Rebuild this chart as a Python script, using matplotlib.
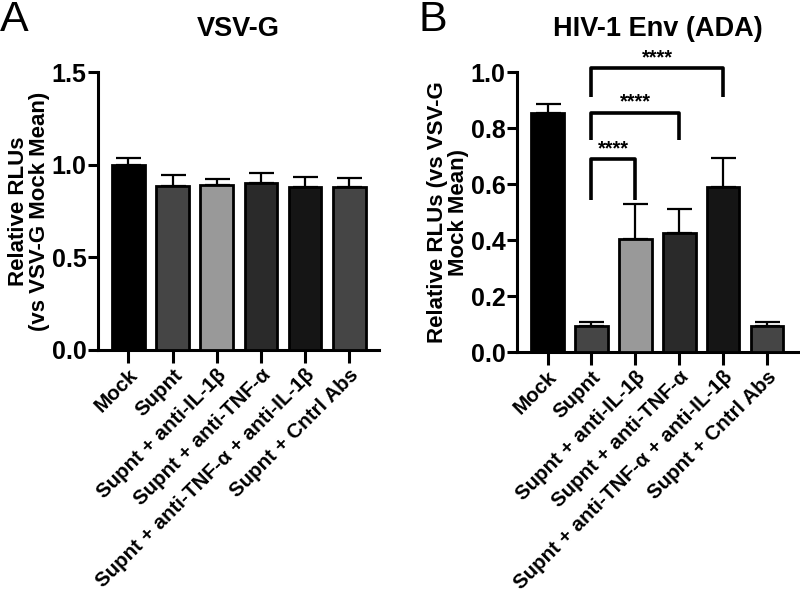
import numpy as np
import matplotlib
matplotlib.use("Agg")
import matplotlib.pyplot as plt

plt.rcParams['font.family'] = ['Liberation Sans', 'DejaVu Sans']
plt.rcParams['font.weight'] = 'bold'

groups = ["Mock", "Supnt", "Supnt + anti-IL-1\u03b2", "Supnt + anti-TNF-\u03b1",
          "Supnt + anti-TNF-\u03b1 + anti-IL-1\u03b2", "Supnt + Cntrl Abs"]
bar_colors = ["#000000", "#454545", "#999999", "#2a2a2a", "#151515", "#454545"]

# panel A: VSV-G
vsv_mean = [1.00, 0.885, 0.888, 0.902, 0.877, 0.880]
vsv_err = [0.035, 0.058, 0.035, 0.052, 0.058, 0.048]

# panel B: HIV-1 Env (ADA)
hiv_mean = [0.852, 0.093, 0.404, 0.426, 0.588, 0.094]
hiv_err = [0.034, 0.013, 0.125, 0.086, 0.105, 0.012]

# significance brackets: (from, to, bottom, top, label)
brackets = [(1, 2, 0.543, 0.688, "****"),
            (1, 3, 0.757, 0.855, "****"),
            (1, 4, 0.910, 1.013, "****")]

fig = plt.figure(figsize=(8, 6), dpi=100)
axA = fig.add_axes([0.122, 0.417, 0.352, 0.463])
axB = fig.add_axes([0.646, 0.413, 0.353, 0.467])

x = np.arange(len(groups))


def draw_bars(ax, mean, err):
    ax.bar(x, mean, width=0.74, color=bar_colors, edgecolor="black",
           linewidth=2.0, zorder=3)
    ax.errorbar(x, mean, yerr=[np.zeros(len(mean)), err], fmt="none",
                ecolor="black", elinewidth=1.6, capsize=9, capthick=1.6,
                zorder=2)
    for s in ["top", "right"]:
        ax.spines[s].set_visible(False)
    for s in ["left", "bottom"]:
        ax.spines[s].set_linewidth(2.2)
    ax.set_xticks(x)
    ax.set_xticklabels(groups, rotation=45, ha="right", rotation_mode="anchor",
                       fontsize=14.8, fontweight="bold")
    ax.tick_params(axis="x", length=9, width=2.2, pad=2)
    ax.tick_params(axis="y", length=7, width=2.2, pad=1, labelsize=18)
    ax.yaxis.set_label_coords(-0.17, 0.5)


draw_bars(axA, vsv_mean, vsv_err)
axA.set_xlim(-0.7, 5.68)
axA.set_ylim(0, 1.5)
axA.set_yticks([0.0, 0.5, 1.0, 1.5])
axA.set_yticklabels(["0.0", "0.5", "1.0", "1.5"], fontweight="bold")
axA.set_ylabel("Relative RLUs\n(vs VSV-G Mock Mean)", fontsize=16,
               fontweight="bold", linespacing=1.0)
axA.set_title("VSV-G", fontsize=19.5, fontweight="bold", pad=26)

draw_bars(axB, hiv_mean, hiv_err)
axB.set_xlim(-0.7, 5.73)
axB.set_ylim(0, 1.0)
axB.set_yticks(np.arange(0, 1.01, 0.2))
axB.set_yticklabels(["0.0", "0.2", "0.4", "0.6", "0.8", "1.0"], fontweight="bold")
axB.set_ylabel("Relative RLUs (vs VSV-G\nMock Mean)", fontsize=16,
               fontweight="bold", linespacing=1.0)
axB.set_title("HIV-1 Env (ADA)", fontsize=19.5, fontweight="bold", pad=26)

for a, b, lo, hi, txt in brackets:
    axB.plot([a, a, b, b], [lo, hi, hi, lo], color="black", lw=2.6,
             clip_on=False, solid_capstyle="butt", zorder=4)
    axB.text((a + b) / 2, hi + 0.004, txt, ha="center", va="bottom",
             fontsize=14.5, fontweight="bold", clip_on=False)

fig.text(0.0, 1.0, "A", fontsize=31, fontweight="normal", va="top")
fig.text(0.523, 1.0, "B", fontsize=31, fontweight="normal", va="top")

fig.savefig("out.png", dpi=100)
